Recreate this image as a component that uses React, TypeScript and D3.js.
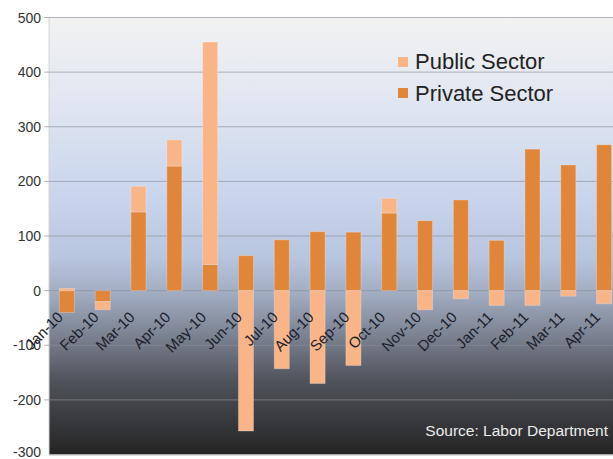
import React from "react";
import * as d3 from "d3";

const months = ["Jan-10","Feb-10","Mar-10","Apr-10","May-10","Jun-10","Jul-10","Aug-10","Sep-10","Oct-10","Nov-10","Dec-10","Jan-11","Feb-11","Mar-11","Apr-11"];
const privateSector = [-40, -20, 144, 228, 48, 64, 93, 108, 107, 142, 128, 166, 92, 259, 230, 267];
const publicSector = [4, -15, 47, 48, 407, -257, -143, -170, -137, 27, -35, -15, -27, -27, -10, -24];
const yTicks = [500, 400, 300, 200, 100, 0, -100, -200, -300];
const seriesKeys = ["private", "public"];
const seriesNames = { public: "Public Sector", private: "Private Sector" };
const seriesColors = { private: "#e0863a", public: "#f9b487" };

const W = 613, H = 459;
const plotL = 49, plotR = 622, plotT = 17.5, plotB = 454.5;

export default function App() {
  const data = months.map((m, i) => ({ month: m, private: privateSector[i], public: publicSector[i] }));
  const x = d3.scaleBand().domain(months).range([plotL, plotR]).paddingInner(0.58).paddingOuter(0.29);
  const y = d3.scaleLinear().domain([-300, 500]).range([plotB, plotT]);
  const stack = d3.stack().keys(seriesKeys).offset(d3.stackOffsetDiverging);
  const layers = stack(data as any);

  const bgStops = [
    [0, "#f2f2f2"], [0.2, "#e0e6f1"], [0.42, "#c8d4ec"], [0.55, "#b8c5de"],
    [0.63, "#a3adc2"], [0.73, "#7a8190"], [0.83, "#50535b"], [0.92, "#393a3e"], [1, "#242424"],
  ];

  return (
    <svg width={W} height={H} style={{ position: "absolute", left: 0, top: 0, background: "#fff" }}
      fontFamily="'Liberation Sans', Arial, sans-serif">
      <defs>
        <linearGradient id="bg" x1="0" y1="0" x2="0" y2="1">
          {bgStops.map(([o, c], i) => <stop key={i} offset={o as number} stopColor={c as string} />)}
        </linearGradient>
        <clipPath id="clip"><rect x={0} y={0} width={W} height={H} /></clipPath>
      </defs>
      <rect x={plotL} y={plotT} width={W - plotL} height={plotB - plotT} fill="url(#bg)" />
      <line x1={plotL} x2={plotL} y1={plotT} y2={plotB} stroke="#d4d4d4" strokeWidth={1} />
      {yTicks.map((t) => (
        <g key={t}>
          <line x1={plotL - 5} x2={W} y1={y(t)} y2={y(t)} stroke="#8a8f9a" strokeOpacity={t === -300 ? 0 : 0.65} strokeWidth={1} />
          <text x={41} y={Math.min(y(t), 452)} dy="0.36em" textAnchor="end" fontSize={14} fill="#333">{t}</text>
        </g>
      ))}
      <line x1={plotL} x2={W} y1={plotB + 0.5} y2={plotB + 0.5} stroke="#bfbfbf" strokeWidth={1} />
      <g clipPath="url(#clip)">
        {layers.map((layer: any) => (
          <g key={layer.key}>
            {layer.map((d: any, i: number) => {
              const y0 = y(Math.max(d[0], d[1]));
              const y1 = y(Math.min(d[0], d[1]));
              return (
                <rect key={i} x={x(months[i])} y={y0} width={x.bandwidth()} height={Math.max(0, y1 - y0)}
                  fill={(seriesColors as any)[layer.key]} stroke="rgba(255,255,255,0.25)" strokeWidth={1} />
              );
            })}
          </g>
        ))}
      </g>
      {months.map((m) => (
        <text key={m} transform={`translate(${(x(m) as number) + x.bandwidth() / 2 - 3},318) rotate(-45)`}
          textAnchor="end" fontSize={15} fill="#1c1e2c">{m}</text>
      ))}
      {["public", "private"].map((k, i) => (
        <g key={k}>
          <rect x={398} y={57 + i * 31} width={10} height={10} fill={(seriesColors as any)[k]} />
          <text x={415} y={69 + i * 31.5} fontSize={22} fill="#222">{(seriesNames as any)[k]}</text>
        </g>
      ))}
      <text x={608} y={436} textAnchor="end" fontSize={15.5} fill="#ececec">Source: Labor Department</text>
    </svg>
  );
}
